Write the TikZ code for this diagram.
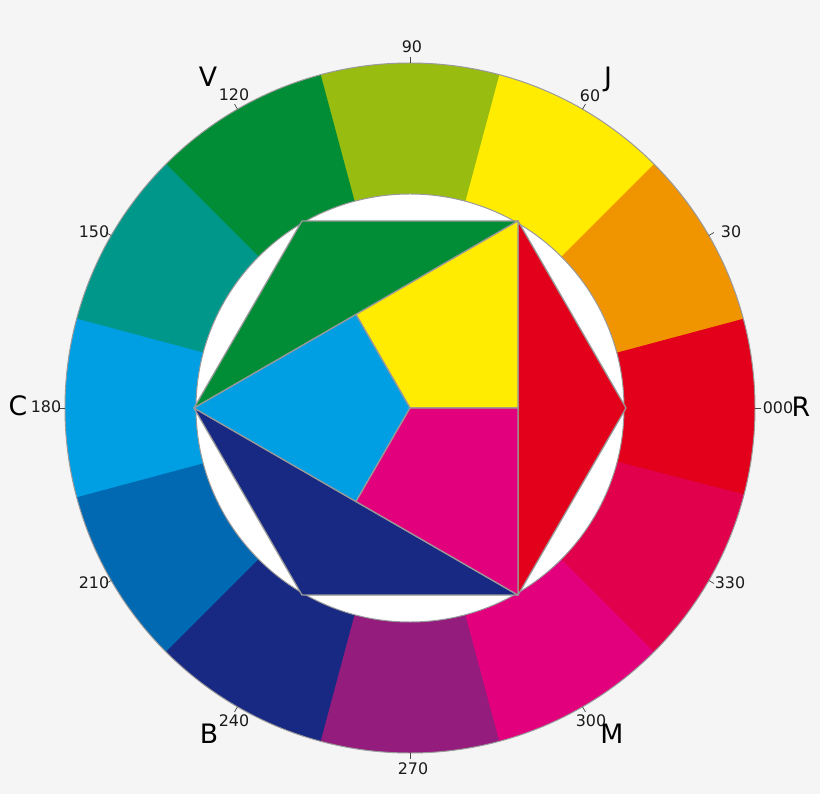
\documentclass[tikz,border=0pt]{standalone}
\usepackage{fontspec}
\setmainfont{DejaVu Sans}
\definecolor{bgc}{HTML}{F5F5F5}
\definecolor{edge}{HTML}{999999}
\definecolor{txt}{HTML}{1A1A1A}
\definecolor{c000}{HTML}{E2001A}
\definecolor{c030}{HTML}{F09400}
\definecolor{c060}{HTML}{FFEC00}
\definecolor{c090}{HTML}{98BD10}
\definecolor{c120}{HTML}{008D36}
\definecolor{c150}{HTML}{00978B}
\definecolor{c180}{HTML}{009FE3}
\definecolor{c210}{HTML}{0069B1}
\definecolor{c240}{HTML}{182983}
\definecolor{c270}{HTML}{931C7D}
\definecolor{c300}{HTML}{E2007D}
\definecolor{c330}{HTML}{E1004B}
\tikzset{
  ring/.style={draw=edge,line width=0.7pt},
  piece/.style={draw=edge,line width=0.9pt,line join=round},
  notch/.style={draw=txt!80,line width=0.5pt},
  deg/.style={inner sep=0pt,text height=0.729em,text depth=0pt,text=txt,font=\fontsize{11.3}{13}\selectfont},
  letter/.style={inner sep=0pt,text height=0.729em,text depth=0pt,font=\fontsize{19}{22}\selectfont}
}
\begin{document}
\begin{tikzpicture}[x=0.025cm,y=0.025cm]
      \fill[bgc] (-410,-386) rectangle (410,408);
      \useasboundingbox (-410,-386) rectangle (410,408);
      \begin{scope}
        \fill[c000] (0,0)--(-15:345) arc[start angle=-15,end angle=15.5,radius=345]--cycle;
        \fill[c030] (0,0)--(15:345) arc[start angle=15,end angle=45.5,radius=345]--cycle;
        \fill[c060] (0,0)--(45:345) arc[start angle=45,end angle=75.5,radius=345]--cycle;
        \fill[c090] (0,0)--(75:345) arc[start angle=75,end angle=105.5,radius=345]--cycle;
        \fill[c120] (0,0)--(105:345) arc[start angle=105,end angle=135.5,radius=345]--cycle;
        \fill[c150] (0,0)--(135:345) arc[start angle=135,end angle=165.5,radius=345]--cycle;
        \fill[c180] (0,0)--(165:345) arc[start angle=165,end angle=195.5,radius=345]--cycle;
        \fill[c210] (0,0)--(195:345) arc[start angle=195,end angle=225.5,radius=345]--cycle;
        \fill[c240] (0,0)--(225:345) arc[start angle=225,end angle=255.5,radius=345]--cycle;
        \fill[c270] (0,0)--(255:345) arc[start angle=255,end angle=285.5,radius=345]--cycle;
        \fill[c300] (0,0)--(285:345) arc[start angle=285,end angle=315.5,radius=345]--cycle;
        \fill[c330] (0,0)--(315:345) arc[start angle=315,end angle=345.5,radius=345]--cycle;
        \draw[ring] (0,0) circle[radius=345];
        \draw[ring,fill=white] (0,0) circle[radius=214];
      \end{scope}

      \draw[notch] (0:345)-- (0:351);
      \draw[notch] (30:345)-- (30:351);
      \draw[notch] (60:345)-- (60:351);
      \draw[notch] (90:345)-- (90:351);
      \draw[notch] (120:345)-- (120:351);
      \draw[notch] (150:345)-- (150:351);
      \draw[notch] (180:345)-- (180:351);
      \draw[notch] (210:345)-- (210:351);
      \draw[notch] (240:345)-- (240:351);
      \draw[notch] (270:345)-- (270:351);
      \draw[notch] (300:345)-- (300:351);
      \draw[notch] (330:345)-- (330:351);

      \begin{scope}
        \coordinate (o) at (0,0);
        \coordinate (h0) at (0:216);
        \coordinate (h60) at (60:216);
        \coordinate (h120) at (120:216);
        \coordinate (h180) at (180:216);
        \coordinate (h240) at (240:216);
        \coordinate (h300) at (300:216);
        \coordinate (m0) at (0:108);
        \coordinate (m120) at (120:108);
        \coordinate (m240) at (240:108);

        \draw[piece,fill=c000] (h60)--(h0)--(h300)--cycle;
        \draw[piece,fill=c120] (h60)--(h120)--(h180)--cycle;
        \draw[piece,fill=c240] (h180)--(h240)--(h300)--cycle;
        \draw[piece,fill=c060] (o)--(m0)--(h60)--(m120)--cycle;
        \draw[piece,fill=c180] (o)--(m120)--(h180)--(m240)--cycle;
        \draw[piece,fill=c300] (o)--(m240)--(h300)--(m0)--cycle;
      \end{scope}

      \node[deg] (d090) at (2,361) {90};
      \node[deg] (d060) at (180,312) {60};
      \node[deg] (d030) at (321,176) {30};
      \node[deg] (d000) at (368,0) {000};
      \node[deg] (d330) at (320,-175) {330};
      \node[deg] (d300) at (181,-313) {300};
      \node[deg] (d270) at (3,-361) {270};
      \node[deg] (d240) at (-176,-313) {240};
      \node[deg] (d210) at (-316,-175) {210};
      \node[deg] (d180) at (-364,1) {180};
      \node[deg] (d150) at (-316,176) {150};
      \node[deg] (d120) at (-176,313) {120};

      \node[letter] (lV) at (-202,327) {V};
      \node[letter] (lJ) at (198,327) {J};
      \node[letter] (lR) at (391,-3) {R};
      \node[letter] (lC) at (-392,-2) {C};
      \node[letter] (lM) at (202,-330) {M};
      \node[letter] (lB) at (-201,-330) {B};
    \end{tikzpicture}
\end{document}
